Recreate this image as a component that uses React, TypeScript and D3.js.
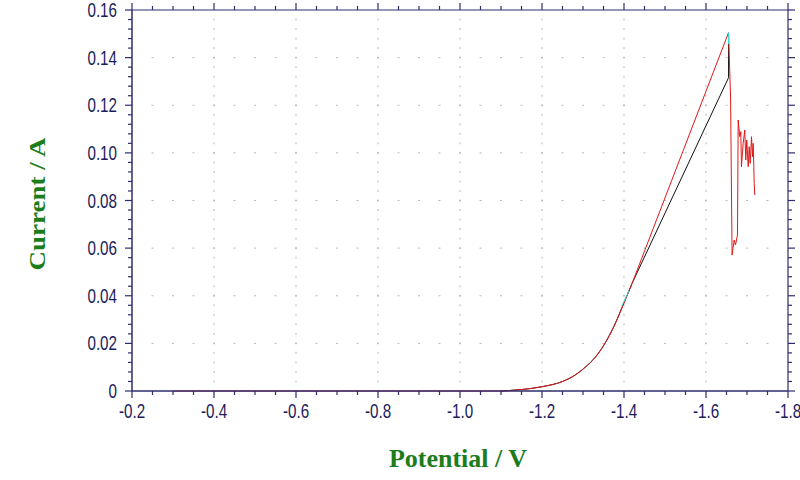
import React from "react";
import * as d3 from "d3";

// Red scan: baseline + rising foot (smooth)
const redFootPotential = [-0.3, -1.1, -1.12, -1.15, -1.2, -1.25, -1.28, -1.3, -1.33, -1.35, -1.375, -1.4, -1.42];
const redFootCurrent = [0, 0, 0.0002, 0.0006, 0.0018, 0.0040, 0.0066, 0.0092, 0.0142, 0.019, 0.027, 0.037, 0.0453];
// Red scan: linear rise, drop and noise
const redTailPotential = [-1.42, -1.655, -1.66, -1.6636, -1.6687, -1.6719, -1.6768, -1.6785, -1.6824, -1.6849, -1.6865, -1.6906, -1.6946, -1.697, -1.6995, -1.7029, -1.7054, -1.7078, -1.711, -1.7134, -1.7151, -1.7166, -1.7176, -1.719];
const redTailCurrent = [0.0453, 0.1505, 0.1226, 0.0571, 0.0634, 0.0613, 0.0655, 0.1138, 0.1068, 0.1089, 0.0942, 0.104, 0.1096, 0.097, 0.1054, 0.0942, 0.1026, 0.0956, 0.1068, 0.0984, 0.104, 0.0942, 0.0872, 0.0823];

// Black scan
const blackFootPotential = [-1.1, -1.12, -1.15, -1.2, -1.25, -1.28, -1.3, -1.33, -1.35, -1.375, -1.4, -1.42];
const blackFootCurrent = [0, 0.0002, 0.0006, 0.0018, 0.0040, 0.0066, 0.0092, 0.0142, 0.019, 0.027, 0.037, 0.0453];
const blackTailPotential = [-1.42, -1.655, -1.655];
const blackTailCurrent = [0.0453, 0.1316, 0.1457];

// Cyan fragments
const cyanAPotential = [-1.394, -1.412];
const cyanACurrent = [0.0355, 0.042];
const cyanBPotential = [-1.655, -1.655];
const cyanBCurrent = [0.1457, 0.1505];

const xMajorTicks = [-0.2, -0.4, -0.6, -0.8, -1.0, -1.2, -1.4, -1.6, -1.8];
const yMajorTicks = [0, 0.02, 0.04, 0.06, 0.08, 0.1, 0.12, 0.14, 0.16];

const xTitle = "Potential / V";
const yTitle = "Current / A";

const W = 800, H = 480;
const L = 132, R = 788, T = 10, B = 391;
const axisColor = "#2e2e6e";
const labelColor = "#1c1c5c";
const titleColor = "#1b7d1b";

export default function App() {
  const x = d3.scaleLinear().domain([-0.2, -1.8]).range([L, R]);
  const y = d3.scaleLinear().domain([0, 0.16]).range([B, T]);

  const xMinor = d3.range(0, 33).map((i) => -0.2 - i * 0.05);
  const yMinor = d3.range(0, 41).map((i) => i * 0.004);

  const line = (px: number[], py: number[], smooth = false) => {
    const g = d3.line<number>().x((_, i) => x(px[i])).y((_, i) => y(py[i]));
    if (smooth) g.curve(d3.curveMonotoneX);
    return g(px) || "";
  };

  const dots: JSX.Element[] = [];
  yMajorTicks.slice(1, -1).forEach((yv, j) => {
    xMinor.slice(1, -1).forEach((xv, i) => {
      dots.push(<rect key={`h${j}-${i}`} x={x(xv) - 1} y={y(yv) - 0.5} width={2} height={1} fill="#b8b8b8" />);
    });
  });
  xMajorTicks.slice(1, -1).forEach((xv, j) => {
    yMinor.slice(1, -1).forEach((yv, i) => {
      dots.push(<rect key={`v${j}-${i}`} x={x(xv) - 0.5} y={y(yv) - 1} width={1} height={2} fill="#b8b8b8" />);
    });
  });

  const isMajorX = (v: number) => xMajorTicks.some((m) => Math.abs(m - v) < 1e-6);
  const isMajorY = (v: number) => yMajorTicks.some((m) => Math.abs(m - v) < 1e-6);

  const red = "#e01818";

  return (
    <svg width={W} height={H} style={{ position: "absolute", left: 0, top: 0, background: "#fff" }}>
      <rect x={0} y={0} width={W} height={H} fill="#fff" />
      {dots}
      {/* data */}
      <path d={line(blackFootPotential, blackFootCurrent, true)} fill="none" stroke="#111" strokeWidth={1} />
      <path d={line(blackTailPotential, blackTailCurrent)} fill="none" stroke="#111" strokeWidth={1} />
      <path d={line(redFootPotential, redFootCurrent, true)} fill="none" stroke={red} strokeWidth={1} />
      <path d={line(redTailPotential, redTailCurrent)} fill="none" stroke={red} strokeWidth={1} />
      <path d={line(cyanAPotential, cyanACurrent)} fill="none" stroke="#33dddd" strokeWidth={1} />
      <path d={line(cyanBPotential, cyanBCurrent)} fill="none" stroke="#33dddd" strokeWidth={1} />

      {/* frame */}
      <line x1={L} x2={R} y1={B} y2={B} stroke={axisColor} strokeWidth={1.5} />
      <line x1={L} x2={L} y1={T} y2={B} stroke={axisColor} strokeWidth={1.5} />
      <line x1={L} x2={R} y1={T} y2={T} stroke={axisColor} strokeWidth={1.2} />
      <line x1={R} x2={R} y1={T} y2={B} stroke={axisColor} strokeWidth={1.2} />

      {/* x ticks */}
      {xMinor.map((v, i) => {
        const len = isMajorX(v) ? 7 : 4;
        return (
          <g key={`xt${i}`}>
            <line x1={x(v)} x2={x(v)} y1={B} y2={B + len} stroke={axisColor} strokeWidth={1.2} />
            <line x1={x(v)} x2={x(v)} y1={T} y2={T - len} stroke={axisColor} strokeWidth={1.2} />
          </g>
        );
      })}
      {/* y ticks */}
      {yMinor.map((v, i) => {
        const len = isMajorY(v) ? 7 : 4;
        return (
          <g key={`yt${i}`}>
            <line x1={L} x2={L - len} y1={y(v)} y2={y(v)} stroke={axisColor} strokeWidth={1.2} />
            <line x1={R} x2={R + len} y1={y(v)} y2={y(v)} stroke={axisColor} strokeWidth={1.2} />
          </g>
        );
      })}

      {/* x labels */}
      {xMajorTicks.map((v, i) => (
        <text
          key={`xl${i}`}
          transform={`translate(${x(v)},${418}) scale(0.76,1)`}
          textAnchor="middle"
          fontFamily="'Liberation Sans', Arial, sans-serif"
          fontSize={20}
          fill={labelColor}
        >
          {v.toFixed(1)}
        </text>
      ))}
      {/* y labels */}
      {yMajorTicks.map((v, i) => (
        <text
          key={`yl${i}`}
          transform={`translate(${117},${y(v) + 7}) scale(0.76,1)`}
          textAnchor="end"
          fontFamily="'Liberation Sans', Arial, sans-serif"
          fontSize={20}
          fill={labelColor}
        >
          {v === 0 ? "0" : v.toFixed(2)}
        </text>
      ))}

      {/* titles */}
      <text
        x={458}
        y={467}
        textAnchor="middle"
        fontFamily="'Liberation Serif', 'Times New Roman', serif"
        fontWeight="bold"
        fontSize={26}
        fill={titleColor}
      >
        {xTitle}
      </text>
      <text
        transform={`translate(${45},${204}) rotate(-90) scale(1,0.84)`}
        textAnchor="middle"
        fontFamily="'Liberation Serif', 'Times New Roman', serif"
        fontWeight="bold"
        fontSize={27}
        fill={titleColor}
      >
        {yTitle}
      </text>
    </svg>
  );
}
